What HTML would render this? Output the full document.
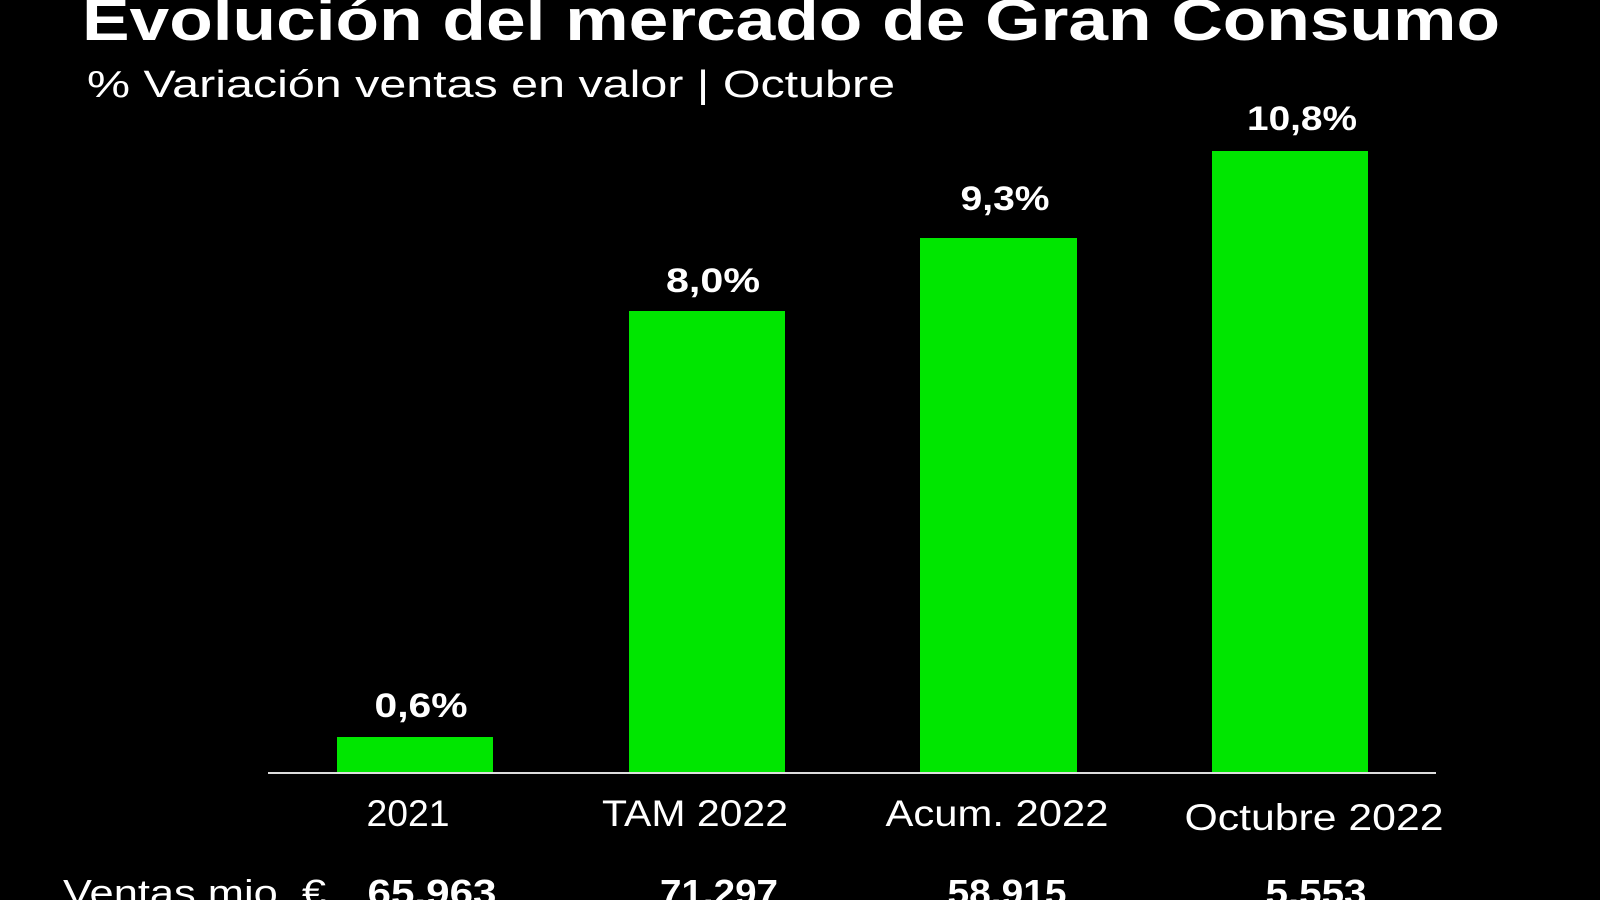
<!DOCTYPE html>
<html><head><meta charset="utf-8"><style>
html,body{margin:0;padding:0;background:#000;width:1600px;height:900px;overflow:hidden}
svg{display:block}
text{font-family:"Liberation Sans",sans-serif;fill:#fff}
</style></head><body>
<svg width="1600" height="900" viewBox="0 0 1600 900">
<rect width="1600" height="900" fill="#000"/>
<text x="82" y="40" font-size="58" font-weight="bold" textLength="1418" lengthAdjust="spacingAndGlyphs">Evolución del mercado de Gran Consumo</text>
<text x="87" y="97" font-size="38" textLength="808" lengthAdjust="spacingAndGlyphs">% Variación ventas en valor | Octubre</text>
<g fill="#00e600">
<rect x="337" y="737" width="156" height="35"/>
<rect x="629" y="311" width="156" height="461"/>
<rect x="920" y="238" width="157" height="534"/>
<rect x="1212" y="151" width="156" height="621"/>
</g>
<line x1="268" y1="773" x2="1436" y2="773" stroke="#ddd" stroke-width="2"/>
<g font-size="34" font-weight="bold" text-anchor="middle" lengthAdjust="spacingAndGlyphs">
<text x="421" y="717" textLength="93" lengthAdjust="spacingAndGlyphs">0,6%</text>
<text x="713" y="292" textLength="94" lengthAdjust="spacingAndGlyphs">8,0%</text>
<text x="1005" y="210" textLength="89" lengthAdjust="spacingAndGlyphs">9,3%</text>
<text x="1302" y="130" textLength="110" lengthAdjust="spacingAndGlyphs">10,8%</text>
</g>
<g font-size="37" text-anchor="middle">
<text x="408" y="826" textLength="83" lengthAdjust="spacingAndGlyphs">2021</text>
<text x="695" y="826" textLength="186" lengthAdjust="spacingAndGlyphs">TAM 2022</text>
<text x="997" y="826" textLength="223" lengthAdjust="spacingAndGlyphs">Acum. 2022</text>
<text x="1314" y="830" textLength="259" lengthAdjust="spacingAndGlyphs">Octubre 2022</text>
</g>
<text x="63" y="905" font-size="36" textLength="263" lengthAdjust="spacingAndGlyphs">Ventas mio. €</text>
<g font-size="36" font-weight="bold" text-anchor="middle">
<text x="432" y="905" textLength="129" lengthAdjust="spacingAndGlyphs">65.963</text>
<text x="719" y="905" textLength="118" lengthAdjust="spacingAndGlyphs">71.297</text>
<text x="1007" y="905" textLength="119" lengthAdjust="spacingAndGlyphs">58.915</text>
<text x="1316" y="905" textLength="101" lengthAdjust="spacingAndGlyphs">5.553</text>
</g>
</svg>
</body></html>
